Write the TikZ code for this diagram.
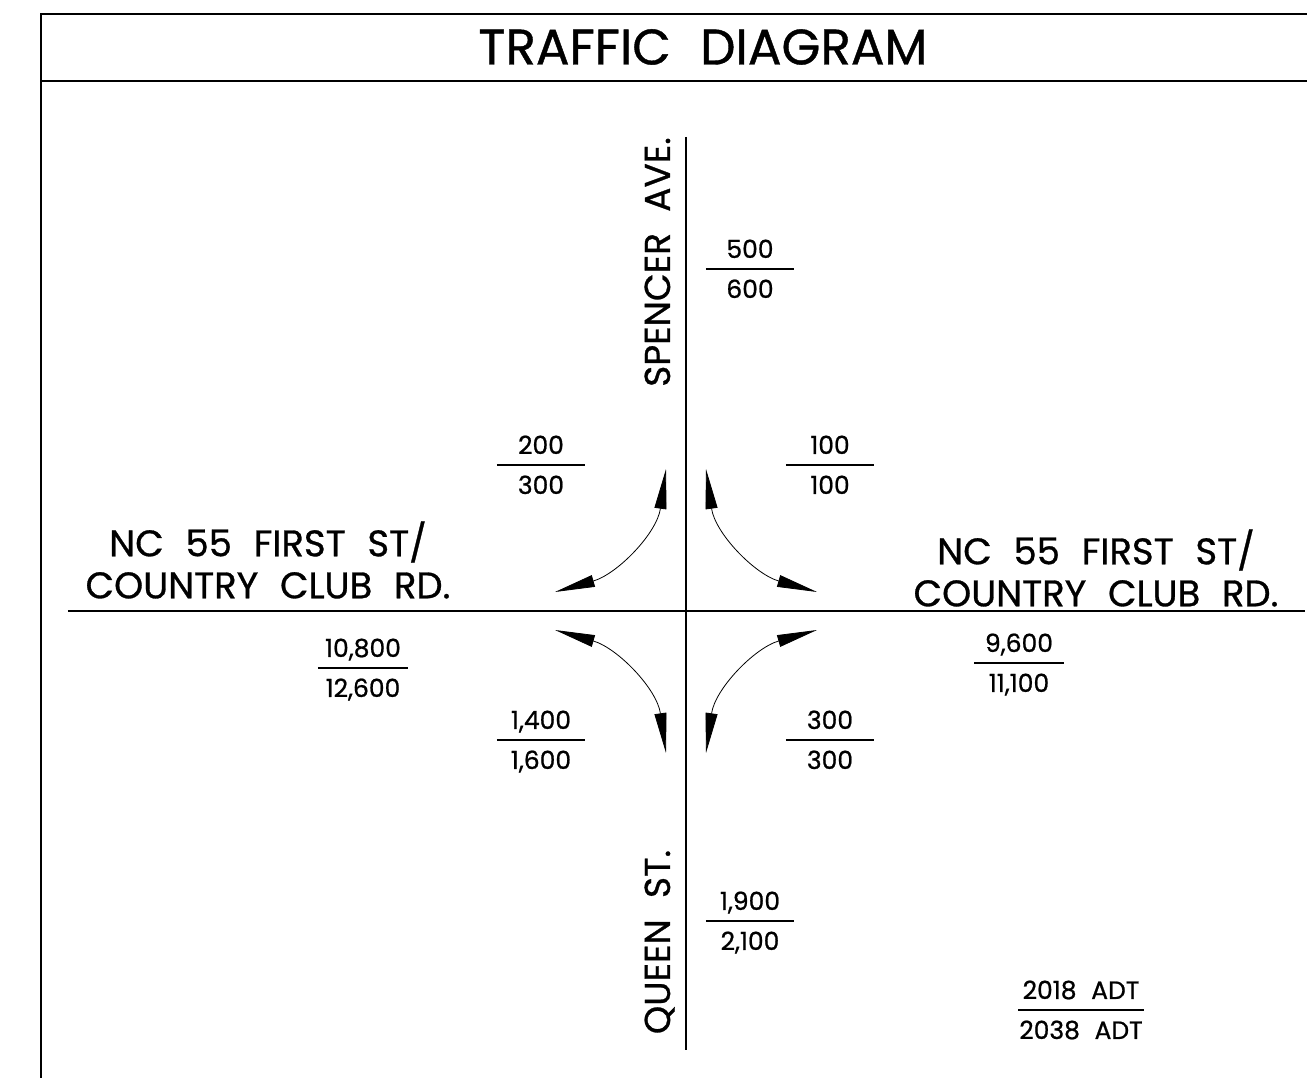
\documentclass[tikz,border=0pt]{standalone}
\usepackage{fontspec}
\setmainfont{Poppins}[WordSpace=2.2, FakeBold=0.8]
\usetikzlibrary{arrows.meta}

\begin{document}
\begin{tikzpicture}[x=1pt, y=1pt,
  frame/.style={line width=2.4pt},
  road/.style={line width=2.2pt},
  rule/.style={line width=1.4pt},
  turn/.style={line width=0.8pt,
    {Triangle[length=40pt,width=12pt]}-{Triangle[length=40pt,width=12pt]}},
  num/.style={font=\fontsize{25}{28}\selectfont, anchor=base, inner sep=0pt},
  street/.style={font=\fontsize{37}{42}\selectfont, align=center, inner sep=0pt}]
  %% sheet, origin at the intersection
  \useasboundingbox (-686,-467) rectangle (621,611);
  \draw[frame] (-645,-467) -- (-645,597) -- (621,597);
  \draw[frame] (-645,530) -- (621,530);
  \node (title) at (17,564) [font=\fontsize{50}{52}\selectfont] {TRAFFIC DIAGRAM};

  %% roads
  \coordinate (north) at (0,474);
  \coordinate (south) at (0,-439);
  \coordinate (west) at (-618,0);
  \coordinate (east) at (619,0);
  \draw[road] (north) -- (south);
  \draw[road] (west) -- (east);

  %% street names
  \node[street, font=\fontsize{36}{40}\selectfont, rotate=90, anchor=base] (spencer) at (-16,349) {SPENCER AVE.};
  \node[street, font=\fontsize{36}{40}\selectfont, rotate=90, anchor=base] (queen) at (-16,-331) {QUEEN ST.};
  \node[street] (first-w) at (-418,51) {NC 55 FIRST ST/\\COUNTRY CLUB RD.};
  \node[street] (first-e) at (410,43) {NC 55 FIRST ST/\\COUNTRY CLUB RD.};

  %% turning movements
  \foreach \q/\sx/\sy in {nw/-1/1, ne/1/1, sw/-1/-1, se/1/-1}{
    \begin{scope}[xscale=\sx, yscale=\sy]
      \coordinate (\q-v) at (20,142);
      \coordinate (\q-h) at (131,19);
      \draw[turn] (\q-v) to[out=-82, in=164] (\q-h);
    \end{scope}
  }

  %% volumes: 2018 ADT over 2038 ADT
  \foreach \nm/\x/\y/\hw/\a/\b in {
    sp/64/342/44/500/600,
    nw/-145/146/44/200/300,
    ne/144/146/44/100/100,
    wst/-323/-57/45/{10,800}/{12,600},
    est/333/-52/45/{9,600}/{11,100},
    sw/-145/-129/44/{1,400}/{1,600},
    se/144/-129/44/300/300,
    qn/64/-310/44/{1,900}/{2,100},
    key/395/-399/63/{2018 ADT}/{2038 ADT}}{
    \draw[rule] (\x-\hw,\y) -- (\x+\hw,\y);
    \node[num] (\nm-a) at (\x,\y+11) {\a};
    \node[num] (\nm-b) at (\x,\y-29) {\b};
  }
\end{tikzpicture}
\end{document}
